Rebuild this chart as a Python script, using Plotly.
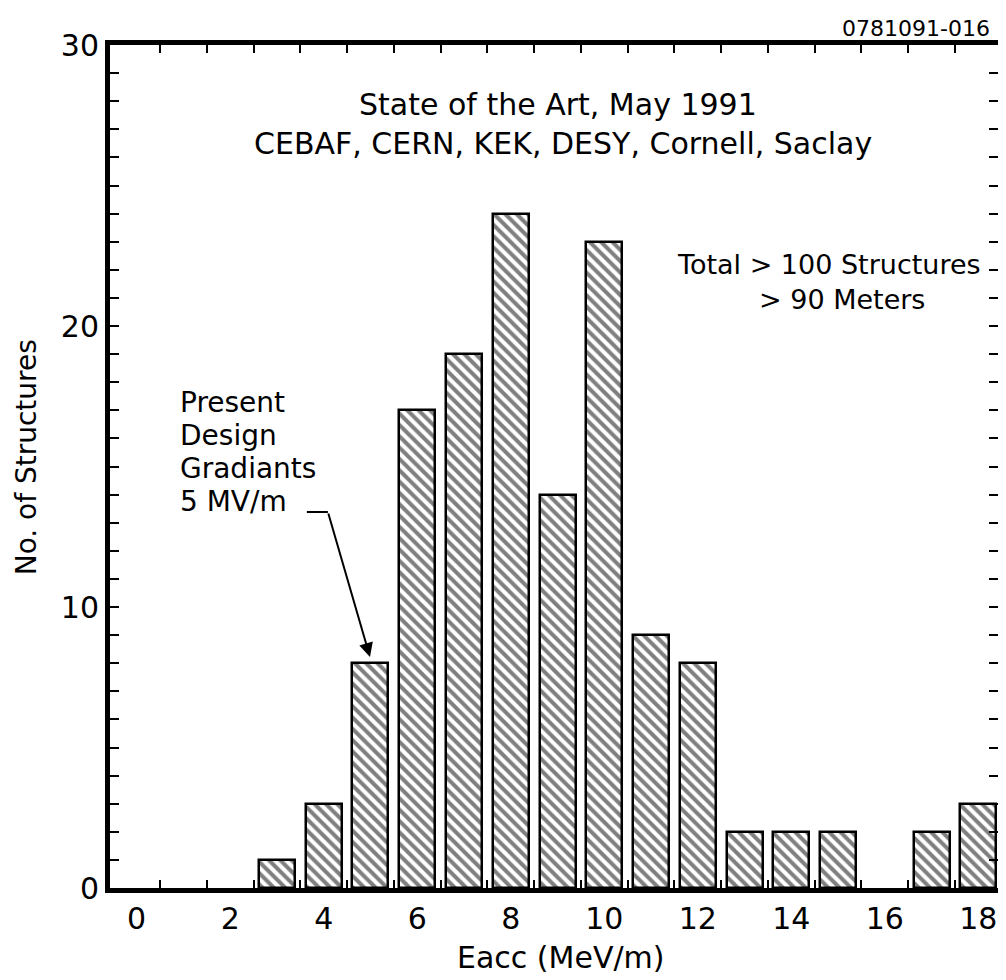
import plotly.graph_objects as go

# ---- data ----
eacc_bins = [3, 4, 5, 6, 7, 8, 9, 10, 11, 12, 13, 14, 15, 17, 18]
structures = [1, 3, 8, 17, 19, 24, 14, 23, 9, 8, 2, 2, 2, 2, 3]
x_tick_vals = [0, 2, 4, 6, 8, 10, 12, 14, 16, 18]
x_tick_text = ["0", "2", "4", "6", "8", "10", "12", "14", "16", "18"]
x_edge_ticks = [0.5, 1.5, 2.5, 3.5, 4.5, 5.5, 6.5, 7.5, 8.5, 9.5,
                10.5, 11.5, 12.5, 13.5, 14.5, 15.5, 16.5, 17.5]
y_tick_vals = [0, 10, 20, 30]
y_tick_text = ["0", "10", "20", "30"]

FONT = "DejaVu Sans"

fig = go.Figure()
fig.add_trace(go.Bar(
    x=eacc_bins, y=structures, width=0.77,
    marker=dict(color="white",
                line=dict(color="black", width=2.5),
                pattern=dict(shape="\\", fgcolor="black", bgcolor="white",
                             size=8, solidity=0.5)),
    showlegend=False, hoverinfo="x+y",
))

axis_common = dict(showline=True, linecolor="black", linewidth=5, mirror="allticks",
                   showgrid=False, zeroline=False, automargin=False,
                   tickfont=dict(family=FONT, size=30, color="black"))

fig.update_xaxes(range=[-0.57, 18.42], tickmode="array", tickvals=x_tick_vals,
                 ticktext=x_tick_text, ticks="",
                 minor=dict(tickmode="array", tickvals=x_edge_ticks, ticks="inside",
                            ticklen=8, tickwidth=2, tickcolor="black", showgrid=False),
                 **axis_common)
fig.update_yaxes(range=[0, 30], tickmode="array", tickvals=y_tick_vals,
                 ticktext=y_tick_text, ticks="inside", ticklen=9, tickwidth=2,
                 tickcolor="black",
                 minor=dict(dtick=1, ticks="inside", ticklen=9, tickwidth=2,
                            tickcolor="black", showgrid=False),
                 **axis_common)

def ann(text, x, y, size, xanchor="center", xref="paper", yref="paper", angle=0):
    fig.add_annotation(text=text, x=x, y=y, xref=xref, yref=yref, showarrow=False,
                       xanchor=xanchor, yanchor="middle", textangle=angle,
                       font=dict(family=FONT, size=size, color="black"))

# titles inside plot
ann("State of the Art, May 1991", 0.505, 0.929, 30)
ann("CEBAF, CERN, KEK, DESY, Cornell, Saclay", 0.510, 0.883, 30)
ann("Total > 100 Structures", 0.983, 0.740, 27, xanchor="right")
ann("> 90 Meters", 0.920, 0.698, 27, xanchor="right")
# present design annotation
for i, line in enumerate(["Present", "Design", "Gradiants", "5 MV/m"]):
    ann(line, 0.077, (888 - (403 + 33 * i)) / 843, 28, xanchor="left")

fig.add_shape(type="line", x0=3.64, x1=4.09, y0=13.38, y1=13.38, xref="x", yref="y",
              line=dict(color="black", width=2))
fig.add_annotation(x=4.99, y=8.22, ax=4.09, ay=13.38, xref="x", yref="y",
                   axref="x", ayref="y", text="", showarrow=True,
                   arrowhead=2, arrowsize=1.4, arrowwidth=2, arrowcolor="black")

# axis titles
ann("No. of Structures", -0.0945, 0.511, 28, angle=-90)
ann("Eacc (MeV/m)", 0.507, -0.083, 30)
# figure id
ann("0781091-016", 0.993, 1.020, 22, xanchor="right")

# page body has an 8px default margin: compensate so the plot lands where the reference has it
fig.update_layout(width=998, height=972,
                  margin=dict(l=102, r=8, t=37, b=92),
                  plot_bgcolor="white", paper_bgcolor="white", bargap=0)

fig.write_html("out.html")
